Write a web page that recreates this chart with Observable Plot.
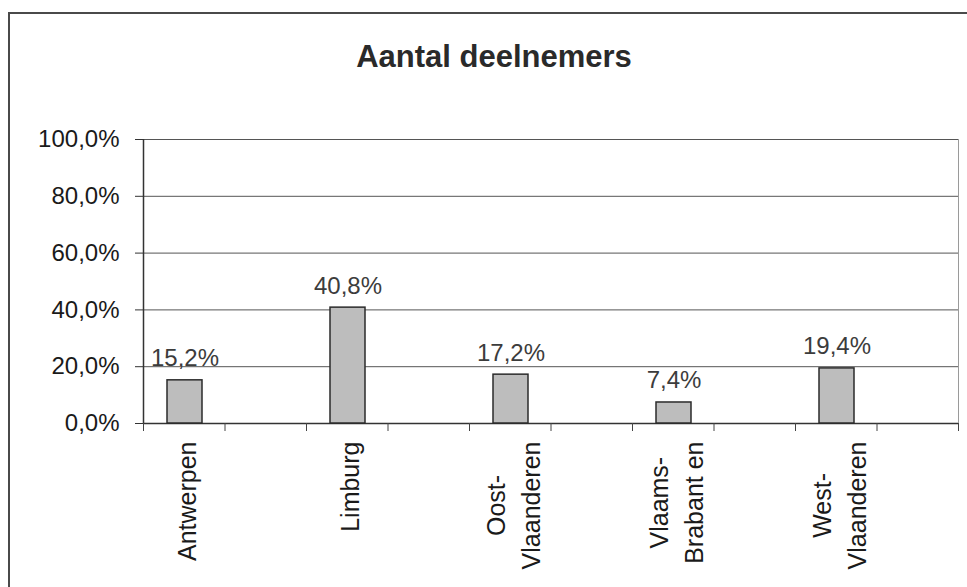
<!DOCTYPE html>
<html>
<head>
<meta charset="utf-8">
<script src="https://cdn.jsdelivr.net/npm/d3@7"></script>
<script src="https://cdn.jsdelivr.net/npm/@observablehq/plot@0.6"></script>
<style>
  html, body { margin: 0; padding: 0; background: #fff; overflow: hidden; }
  body { width: 967px; height: 587px; position: relative; font-family: "Liberation Sans", Arial, sans-serif; }
  #box { position: absolute; left: 8px; top: 12px; width: 1100px; height: 700px;
         border-top: 2px solid #4a4a4a; border-left: 2px solid #4a4a4a; }
  #title { position: absolute; left: 0; width: 988px; top: 41px; text-align: center;
           font-weight: bold; font-size: 31px; line-height: 31px; color: #2a2a2a; }
  #chart { position: absolute; left: 0; top: 100px; }
</style>
</head>
<body>
<div id="box"></div>
<div id="title">Aantal deelnemers</div>
<div id="chart"></div>
<script>
// ---- data ----
const regions = ["Antwerpen", "Limburg", "Oost-\nVlaanderen", "Vlaams-\nBrabant en", "West-\nVlaanderen"];
const shares = [15.2, 40.8, 17.2, 7.4, 19.4];
const yTicks = [0, 20, 40, 60, 80, 100];

const data = regions.map((r, i) => ({region: r, value: shares[i]}));
const fmt = v => v.toFixed(1).replace(".", ",") + "%";

const W = 967, H = 487, mL = 143, mR = 9, mT = 39, mB = 164;
const bw = (W - mL - mR) / regions.length;
const barOffset = -40;   // bars sit left of the band centre, like the original

// measure the longest line of each category label
const ctx = document.createElement("canvas").getContext("2d");
ctx.font = "25px 'Liberation Sans'";
const longest = s => Math.max(...s.split("\n").map(l => ctx.measureText(l).width));

const labelMarks = regions.map(r =>
  Plot.text([r], {
    x: d => d, text: d => d, frameAnchor: "bottom", rotate: -90,
    textAnchor: "middle", lineAnchor: "middle", lineHeight: 1.42,
    dx: barOffset, dy: 18 + longest(r) / 2, fontSize: 25, fill: "#1a1a1a"
  })
);

const chart = Plot.plot({
  width: W, height: H,
  marginLeft: mL, marginRight: mR, marginTop: mT, marginBottom: mB,
  style: {fontFamily: "'Liberation Sans', Arial, sans-serif", background: "transparent", color: "#1a1a1a"},
  x: {domain: regions, padding: 0, axis: null, label: null},
  y: {domain: [0, 100], axis: null, label: null},
  marks: [
    Plot.frame({stroke: "#9a9a9a"}),
    Plot.gridY(yTicks.slice(1), {stroke: "#555", strokeOpacity: 1, strokeWidth: 1}),
    Plot.ruleY([0], {stroke: "#333", strokeWidth: 1.5}),
    Plot.ruleX([regions[0]], {dx: -bw / 2, stroke: "#333", strokeWidth: 1.5}),
    Plot.axisY(yTicks, {tickSize: 8, tickPadding: 16, tickFormat: fmt, fontSize: 24, stroke: "#333", label: null}),
    Plot.axisX({tickSize: 8, tickFormat: () => "", stroke: "#444", label: null}),
    Plot.axisX({tickSize: 8, tickFormat: () => "", dx: -bw / 2, stroke: "#444", label: null}),
    Plot.axisX([regions[regions.length - 1]], {tickSize: 8, tickFormat: () => "", dx: bw / 2, stroke: "#444", label: null}),
    Plot.barY(data, {x: "region", y: "value", fill: "#bdbdbd", stroke: "#2b2b2b", strokeWidth: 1.5,
                     insetLeft: 24, insetRight: 104}),
    Plot.text(data, {x: "region", y: "value", text: d => fmt(d.value), dx: barOffset, dy: -14,
                     lineAnchor: "bottom", fontSize: 24, fill: "#3c3c3c"}),
    ...labelMarks
  ]
});
document.getElementById("chart").appendChild(chart);
</script>
</body>
</html>
